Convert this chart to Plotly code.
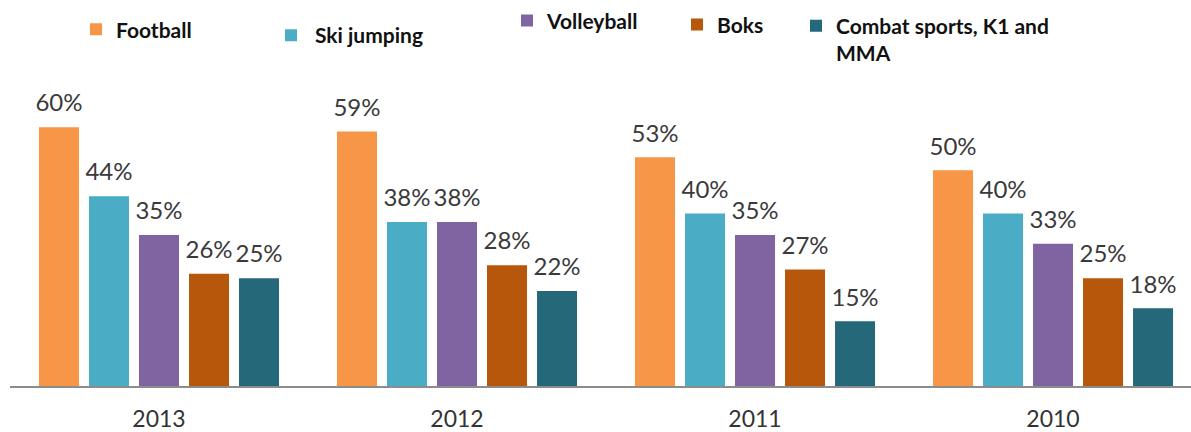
import plotly.graph_objects as go

years = ["2013", "2012", "2011", "2010"]
series_names = ["Football", "Ski jumping", "Volleyball", "Boks", "Combat sports, K1 and MMA"]
legend_labels = ["Football", "Ski jumping", "Volleyball", "Boks", "Combat sports, K1 and<br>MMA"]
football = [60, 59, 53, 50]
ski_jumping = [44, 38, 40, 40]
volleyball = [35, 38, 35, 33]
boks = [26, 28, 27, 25]
combat = [25, 22, 15, 18]
colors = ["#F79646", "#4BACC6", "#8064A2", "#B6570B", "#25687A"]

values = [football, ski_jumping, volleyball, boks, combat]

W, H = 1191, 432
ML, MR, MT, MB = 10, 0, 80, 46
PW = W - ML - MR
PH = H - MT - MB

# legend placement (pixels: text left edge, legend box vertical center, item width)
legend_pos = [(116, 25, 30), (315, 31, 38), (547, 16, 30), (717, 20, 30), (836, 35, 30)]

fig = go.Figure()
for i, (name, vals, col) in enumerate(zip(series_names, values, colors)):
    lname = "legend" if i == 0 else f"legend{i+1}"
    fig.add_trace(go.Bar(
        x=years, y=vals, name=legend_labels[i], marker_color=col,
        marker_line_width=0, offsetgroup=str(i), legend=lname,
        hoverinfo="skip",
    ))
    fig.add_trace(go.Scatter(
        x=years, y=vals, mode="markers+text", offsetgroup=str(i),
        text=[f"{v}%" for v in vals], textposition="top center",
        marker=dict(size=14, opacity=0),
        textfont=dict(family="Lato", size=24, color="#3a3a3a"),
        showlegend=False, hoverinfo="skip", cliponaxis=False,
    ))

layout_legends = {}
for i, (px, py, iw) in enumerate(legend_pos):
    key = "legend" if i == 0 else f"legend{i+1}"
    layout_legends[key] = dict(
        x=(px - iw - 10 - ML) / PW, y=(H - MB - py) / PH,
        xanchor="left", yanchor="middle", itemwidth=iw,
        bgcolor="rgba(0,0,0,0)", borderwidth=0,
        font=dict(family="Lato", size=21, color="#111111", weight="bold"),
        valign="top", tracegroupgap=0, itemclick=False, itemdoubleclick=False,
    )

fig.update_layout(
    width=W, height=H, autosize=False,
    margin=dict(l=ML, r=MR, t=MT, b=MB, pad=0),
    paper_bgcolor="white", plot_bgcolor="white",
    barmode="group", bargap=0.161, bargroupgap=0.2,
    scattermode="group", scattergap=0.161,
    xaxis=dict(type="category", range=[-0.5, 3.463], showline=True,
               linecolor="#8C8C8C", linewidth=2, showgrid=False, ticks="",
               ticklabelstandoff=11,
               tickfont=dict(family="Lato", size=23, color="#333333"),
               fixedrange=True),
    yaxis=dict(range=[0, 70], visible=False, fixedrange=True),
    **layout_legends,
)

fig.write_html("out.html")
